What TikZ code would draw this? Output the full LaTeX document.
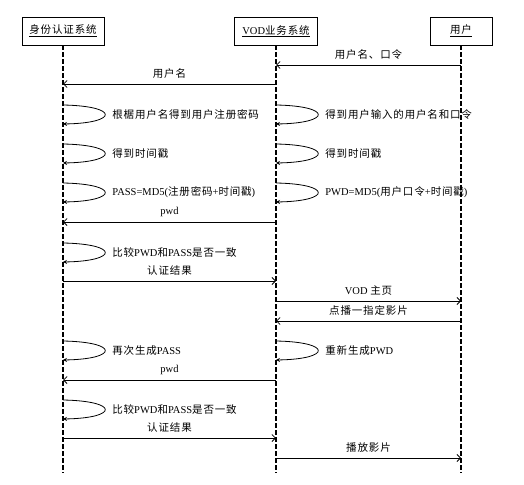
\documentclass[tikz,border=0pt]{standalone}
\usepackage{fontspec}
\setmainfont{Liberation Serif}
\newfontfamily\cjk[LetterSpace=8]{Noto Sans CJK SC}
\usetikzlibrary{arrows.meta, positioning, calc}

\begin{document}
\begin{tikzpicture}[x=1pt, y=-1pt,
  every node/.style={font=\fontsize{10.5}{12}\selectfont, inner sep=1pt},
  headbox/.style={draw, line width=0.9pt, minimum height=28pt, inner sep=3pt},
  lifeline/.style={line width=1.8pt, dash pattern=on 4.5pt off 2.5pt},
  msgline/.style={line width=0.8pt, -{Straight Barb[length=3.5pt, width=7pt]}},
  selfcall/.style={line width=0.8pt, -{Stealth[length=4pt, width=4pt]}}]
  \useasboundingbox (0,0) rectangle (524,484);

  % Heads
  \node[headbox, minimum width=82pt] (auth) at (63,31) {\underline{\cjk 身份认证系统}};
  \node[headbox, minimum width=83pt] (vod) at (276,31) {\underline{VOD{\cjk 业务系统}}};
  \node[headbox, minimum width=62pt] (usr) at (461,31) {\underline{\cjk 用户}};

  % Lifelines
  \foreach \p in {auth, vod, usr}{
    \coordinate (\p-end) at (\p |- 0,473);
    \draw[lifeline] (\p.south) -- (\p-end);
  }

  % Messages
  \foreach \i/\a/\b/\y/\t in {
    1/usr/vod/65/{\cjk 用户名、口令},
    2/vod/auth/84/{\cjk 用户名},
    3/vod/auth/222/{pwd},
    4/auth/vod/281/{\cjk 认证结果},
    5/vod/usr/301/{VOD {\cjk 主页}},
    6/usr/vod/321/{\cjk 点播一指定影片},
    7/vod/auth/380/{pwd},
    8/auth/vod/438/{\cjk 认证结果},
    9/vod/usr/458/{\cjk 播放影片}}{
    \coordinate (m\i-a) at (\a |- 0,\y);
    \coordinate (m\i-b) at (\b |- 0,\y);
    \draw[msgline] (m\i-a) -- (m\i-b) node[midway, above=4pt] (m\i-t) {\t};
  }

  % Self calls
  \foreach \i/\p/\y/\t in {
    1/auth/105/{\cjk 根椐用户名得到用户注册密码},
    2/vod/105/{\cjk 得到用户输入的用户名和口令},
    3/auth/144/{\cjk 得到时间戳},
    4/vod/144/{\cjk 得到时间戳},
    5/auth/183/{PASS=MD5({\cjk 注册密码}+{\cjk 时间戳})},
    6/vod/183/{PWD=MD5({\cjk 用户口令}+{\cjk 时间戳})},
    7/auth/243/{{\cjk 比较}PWD{\cjk 和}PASS{\cjk 是否一致}},
    8/auth/341/{{\cjk 再次生成}PASS},
    9/vod/341/{{\cjk 重新生成}PWD},
    10/auth/400/{{\cjk 比较}PWD{\cjk 和}PASS{\cjk 是否一致}}}{
    \coordinate (s\i-a) at (\p |- 0,\y);
    \coordinate (s\i-b) at (\p |- 0,\y+19);
    \draw[selfcall] (s\i-a) .. controls +(56,1) and +(56,-1) .. (s\i-b)
      node[pos=0.5, anchor=west, xshift=6pt] (s\i-t) {\t};
  }
\end{tikzpicture}
\end{document}
